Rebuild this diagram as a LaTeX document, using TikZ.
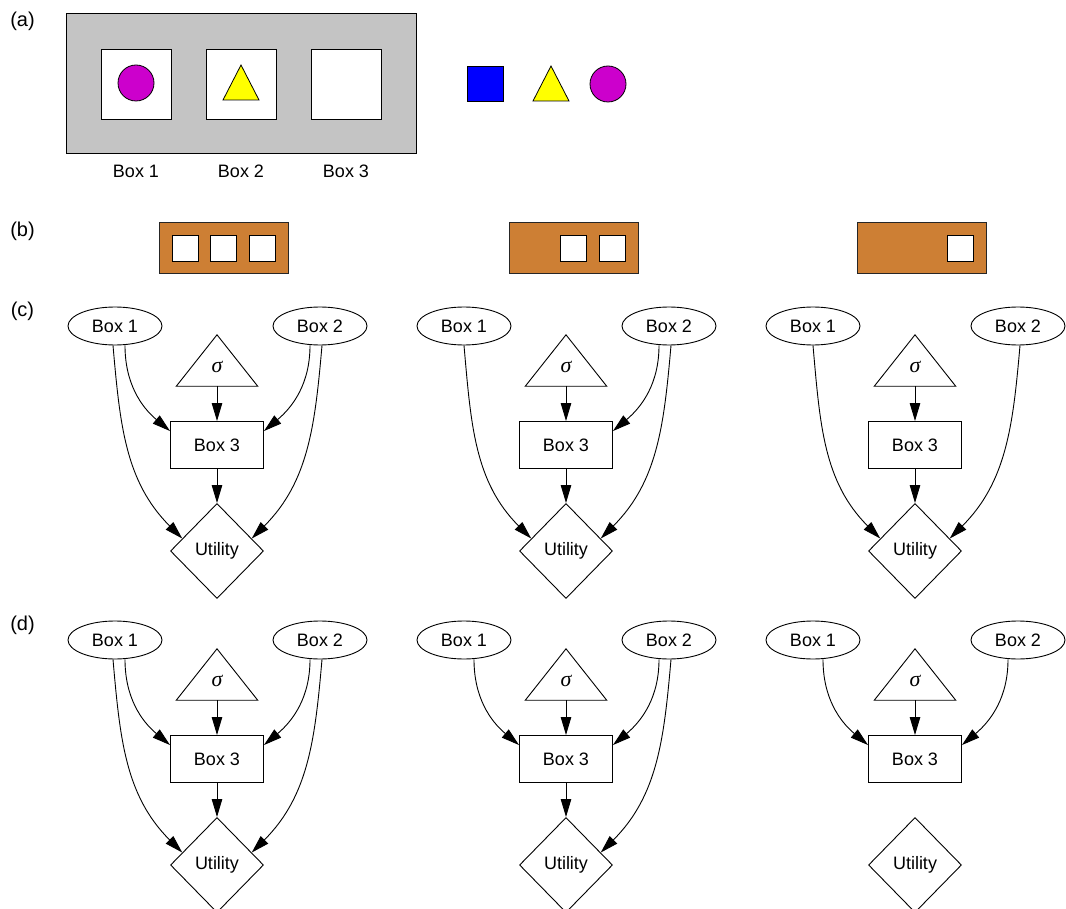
\documentclass[tikz,border=0pt]{standalone}
\usepackage{fontspec}
\setmainfont{Liberation Sans}
\newfontfamily\sigmafont{Liberation Serif}
\usetikzlibrary{shapes.geometric,arrows.meta,calc}
\definecolor{panelgray}{RGB}{196,196,196}
\definecolor{bronze}{RGB}{205,127,52}
\definecolor{mag}{RGB}{204,0,204}
\definecolor{yel}{RGB}{255,255,0}
\definecolor{blu}{RGB}{0,0,255}
\tikzset{
  lbl/.style={inner sep=0pt},
  plbl/.style={inner sep=0pt, font=\fontsize{20}{24}\selectfont},
  ell/.style={ellipse, draw, line width=0.9pt, fill=white, minimum width=94pt, minimum height=38pt, inner sep=0pt},
  rectbox/.style={rectangle, draw, line width=0.9pt, fill=white, minimum width=93pt, minimum height=47pt, inner sep=0pt},
  util/.style={diamond, draw, line width=0.9pt, fill=white, minimum width=93pt, minimum height=95pt, inner sep=0pt},
  trinode/.style={rectangle, minimum width=81pt, minimum height=51pt, inner sep=0pt},
  edge/.style={-{Triangle[length=18pt,width=10.5pt]}, line width=0.9pt},
  slot/.style={rectangle, draw, line width=0.9pt, fill=white, minimum width=26pt, minimum height=26pt, inner sep=0pt},
  orange/.style={rectangle, draw=black!85, line width=1pt, fill=bronze, minimum width=129pt, minimum height=51pt, inner sep=0pt},
  inbox/.style={rectangle, draw, line width=0.9pt, fill=white, minimum width=70pt, minimum height=70pt, inner sep=0pt},
}
% graph nodes: #1 prefix, #2 X0, #3 Y0 (pixels, downward)
\newcommand{\graphnodes}[3]{%
  \node[ell] (#1b1) at (#2-102,-#3) {Box 1};
  \node[ell] (#1b2) at (#2+103,-#3) {Box 2};
  \node[trinode] (#1sg) at (#2,-#3-34.5) {};
  \draw[line width=0.9pt] (#1sg.south west) -- (#1sg.north) -- (#1sg.south east) -- cycle;
  \node[lbl, font=\fontsize{22}{26}\sigmafont\itshape] (#1sgt) at (#2,-#3-41) {σ};
  \node[rectbox] (#1b3) at (#2,-#3-119) {Box 3};
  \node[util] (#1ut) at (#2,-#3-225) {Utility};
}
\newcommand{\eAC}[1]{\draw[edge] ($(#1b1.south)+(10,0)$) to[out=-90,in=140] ($(#1b3.north west)+(0,-10)$);}
\newcommand{\eBC}[1]{\draw[edge] ($(#1b2.south)+(-10,0)$) to[out=-90,in=40] ($(#1b3.north east)+(0,-10)$);}
\newcommand{\eAU}[2]{\draw[edge] ($(#1b1.south)+(#2,0)$) to[out=-85,in=135] ($(#1ut.west)!0.26!(#1ut.north)$);}
\newcommand{\eBU}[2]{\draw[edge] ($(#1b2.south)+(#2,0)$) to[out=-95,in=45] ($(#1ut.east)!0.26!(#1ut.north)$);}
\newcommand{\eSC}[1]{\draw[edge] (#1sg.south) -- (#1b3.north);}
\newcommand{\eCU}[1]{\draw[edge] (#1b3.south) -- (#1ut.north);}
\begin{document}
\begin{tikzpicture}[x=1pt,y=1pt,font=\fontsize{18}{21}\selectfont]
\useasboundingbox (0,0) rectangle (1066,-909);
% panel labels
\node[plbl] (la) at (22.5,-21) {(a)};
\node[plbl] (lb) at (22.5,-231) {(b)};
\node[plbl] (lc) at (22.5,-311) {(c)};
\node[plbl] (ld) at (22.5,-625) {(d)};
% panel (a)
\node[rectangle, draw, line width=1pt, fill=panelgray, minimum width=350pt, minimum height=140pt, inner sep=0pt] (panel) at (241,-84) {};
\node[inbox] (ib1) at (136,-84) {};
\node[inbox] (ib2) at (241,-84) {};
\node[inbox] (ib3) at (346,-84) {};
\node[circle, draw, line width=0.8pt, fill=mag, minimum size=36pt, inner sep=0pt] (c1) at (136,-83) {};
\draw[line width=0.8pt, fill=yel] (223,-100) -- (241,-65) -- (259,-100) -- cycle;
\node[rectangle, draw, line width=0.8pt, fill=blu, minimum width=36pt, minimum height=35pt, inner sep=0pt] (sq) at (485,-83.5) {};
\draw[line width=0.8pt, fill=yel] (533,-101) -- (551,-66) -- (569,-101) -- cycle;
\node[circle, draw, line width=0.8pt, fill=mag, minimum size=36pt, inner sep=0pt] (c2) at (608,-84) {};
\node[lbl] (t1) at (136,-171) {Box 1};
\node[lbl] (t2) at (241,-171) {Box 2};
\node[lbl] (t3) at (346,-171) {Box 3};
% panel (b)
\node[orange] (o1) at (223.5,-248.5) {};
\node[orange] (o2) at (573.5,-248.5) {};
\node[orange] (o3) at (921.5,-248.5) {};
\foreach \dx/\nm in {13/a,51/b,90/c} {
  \node[slot, anchor=west] (s1\nm) at ($(o1.west)+(\dx,0)$) {};
}
\foreach \dx/\nm in {51/b,90/c} {
  \node[slot, anchor=west] (s2\nm) at ($(o2.west)+(\dx,0)$) {};
}
\node[slot, anchor=west] (s3c) at ($(o3.west)+(90,0)$) {};
% panel (c)
\graphnodes{cl}{217}{326}
\graphnodes{cm}{566}{326}
\graphnodes{cr}{915}{326}
\eAC{cl}\eBC{cl}\eAU{cl}{-2}\eBU{cl}{2}\eSC{cl}\eCU{cl}
\eBC{cm}\eAU{cm}{0}\eBU{cm}{2}\eSC{cm}\eCU{cm}
\eAU{cr}{0}\eBU{cr}{2}\eSC{cr}\eCU{cr}
% panel (d)
\graphnodes{dl}{217}{640}
\graphnodes{dm}{566}{640}
\graphnodes{dr}{915}{640}
\eAC{dl}\eBC{dl}\eAU{dl}{-2}\eBU{dl}{2}\eSC{dl}\eCU{dl}
\eAC{dm}\eBC{dm}\eBU{dm}{2}\eSC{dm}\eCU{dm}
\eAC{dr}\eBC{dr}\eSC{dr}
\end{tikzpicture}
\end{document}
